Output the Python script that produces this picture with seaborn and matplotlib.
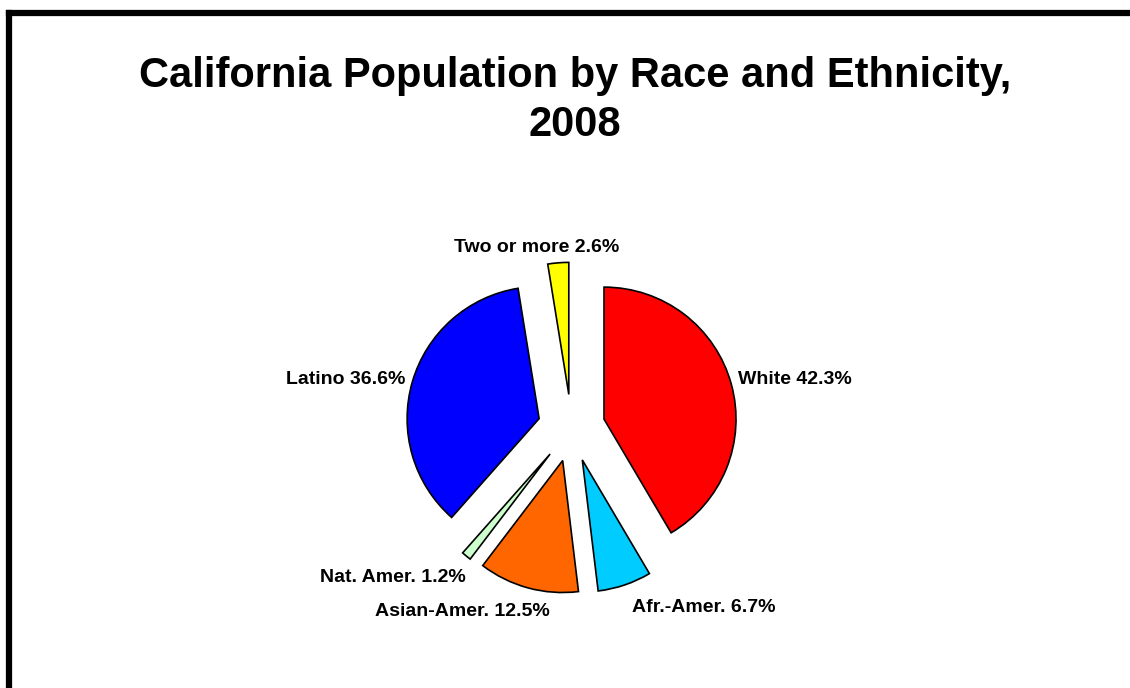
import matplotlib
matplotlib.use("Agg")
import matplotlib.pyplot as plt
import seaborn as sns
from matplotlib.lines import Line2D

# dados do gráfico
grupos = ['White', 'Afr.-Amer.', 'Asian-Amer.', 'Nat. Amer.', 'Latino', 'Two or more']
percentuais = [42.3, 6.7, 12.5, 1.2, 36.6, 2.6]
cores = ['#FF0000', '#00CCFF', '#FF6600', '#CCFFCC', '#0000FF', '#FFFF00']

sns.set_style("white")
plt.rcParams['font.family'] = ['Liberation Sans', 'DejaVu Sans']
plt.rcParams['text.color'] = 'black'

fig = plt.figure(figsize=(11.3, 6.88), dpi=100)
ax = fig.add_axes([0, 0, 1, 1])

# pizza com todas as fatias destacadas
ax.pie(percentuais, colors=cores, startangle=90, counterclock=False,
       center=(571.5, 260), radius=132, explode=[33.7] * len(percentuais),
       wedgeprops=dict(edgecolor='black', linewidth=1.2), frame=True)
ax.set_xlim(0, 1130)
ax.set_ylim(0, 688)
ax.axis('off')

# rótulos
rotulos = [f'{g} {p}%' for g, p in zip(grupos, percentuais)]
posicoes = [(738, 688 - 380, 'left'), (632, 688 - 607, 'left'),
            (550, 688 - 612, 'right'), (466, 688 - 578, 'right'),
            (405, 688 - 380, 'right'), (537, 688 - 247, 'center')]
for txt, (x, y, ha) in zip(rotulos, posicoes):
    ax.text(x, y, txt, ha=ha, va='center', fontsize=14, fontweight='bold', color='black')

fig.text(575 / 1130, 1 - 56 / 688, 'California Population by Race and Ethnicity,\n2008',
         ha='center', va='top', fontsize=30, fontweight='bold', linespacing=1.3, color='black')

# moldura (só esquerda e topo aparecem)
fig.add_artist(Line2D([9 / 1130, 9 / 1130], [0, 1 - 13 / 688], color='black', linewidth=4.5,
                      solid_capstyle='projecting', transform=fig.transFigure))
fig.add_artist(Line2D([9 / 1130, 1], [1 - 13 / 688, 1 - 13 / 688], color='black', linewidth=4.5,
                      solid_capstyle='projecting', transform=fig.transFigure))

fig.savefig('out.png', dpi=100, facecolor='white')
